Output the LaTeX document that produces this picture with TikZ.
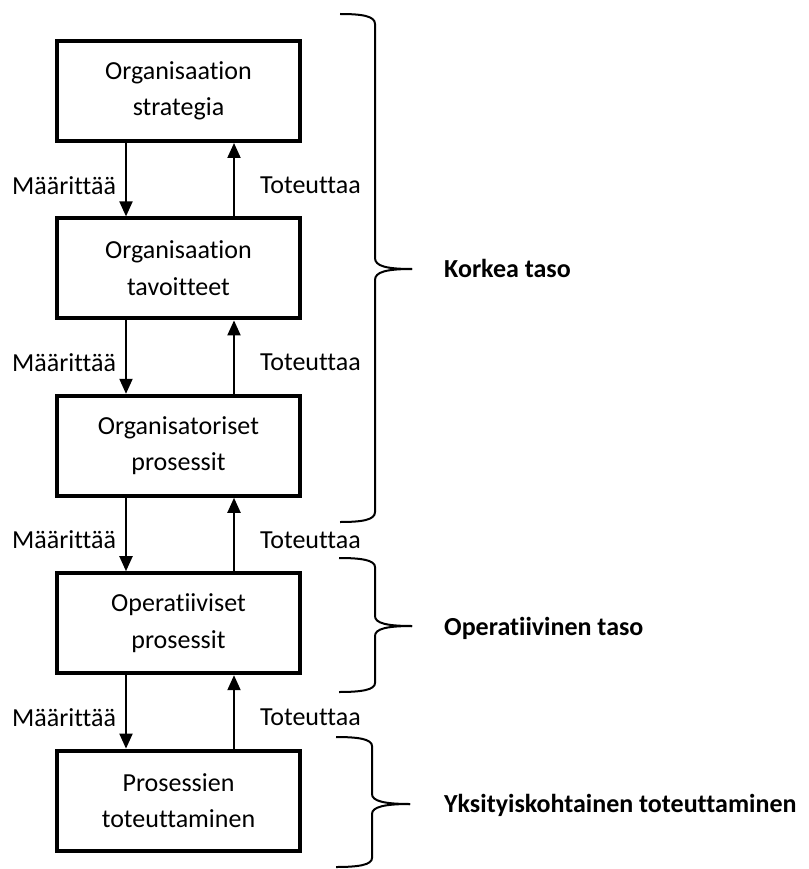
\documentclass[tikz,border=0pt]{standalone}
\usepackage{fontspec}
\setmainfont{Carlito}[RawFeature={-liga;-clig;-calt;-dlig}]
\usetikzlibrary{arrows.meta,calc}
\begin{document}
\begin{tikzpicture}[x=1pt,y=-1pt,
  box/.style={draw,line width=4pt,minimum width=243pt,minimum height=100pt,inner sep=0pt,align=center,font=\fontsize{26}{36.5}\selectfont},
  lbl/.style={font=\fontsize{26}{31}\selectfont,inner sep=0pt},
  lvl/.style={font=\fontsize{26}{31}\selectfont\bfseries,inner sep=0pt,anchor=base west},
  conn/.style={line width=2pt,-{Triangle[length=15pt,width=13pt]}},
  bracel/.style={line width=2pt}]
\useasboundingbox (0,0) rectangle (808,869);
\node[box] (b1) at (178.5,91) {Organisaation\\strategia};
\node[box] (b2) at (178.5,268.4) {Organisaation\\tavoitteet};
\node[box] (b3) at (178.5,445.8) {Organisatoriset\\prosessit};
\node[box] (b4) at (178.5,623.2) {Operatiiviset\\prosessit};
\node[box] (b5) at (178.5,800.6) {Prosessien\\toteuttaminen};
\foreach \a/\b in {b1/b2,b2/b3,b3/b4,b4/b5} {
  \draw[conn] ([xshift=-52.5pt]\a.south) -- node[lbl,left=9pt,yshift=-5.5pt]{Määrittää} ([xshift=-52.5pt]\b.north);
  \draw[conn] ([xshift=55.5pt]\b.north) -- node[lbl,right=25pt,yshift=-5.5pt]{Toteuttaa} ([xshift=55.5pt]\a.south);
}
% braces
\draw[bracel] (340,14) .. controls (362,14) and (375,16) .. (375,24) -- (375,258) .. controls (375,266) and (386,269) .. (412,269);
\draw[bracel] (412,269) .. controls (386,269) and (375,272) .. (375,280) -- (375,512) .. controls (375,520) and (362,522) .. (340,522);
\draw[bracel] (339,558) .. controls (361,558) and (375,560) .. (375,567) -- (375,616) .. controls (375,623) and (386,626) .. (412,626);
\draw[bracel] (412,626) .. controls (386,626) and (375,629) .. (375,636) -- (375,683) .. controls (375,690) and (361,692) .. (339,692);
\draw[bracel] (336,737) .. controls (358,737) and (372,739) .. (372,746) -- (372,794) .. controls (372,801) and (384,804) .. (410,804);
\draw[bracel] (410,804) .. controls (384,804) and (372,807) .. (372,814) -- (372,858) .. controls (372,865) and (358,867) .. (336,867);
\node[lvl] (k) at (444,277) {Korkea taso};
\node[lvl] (o) at (444,635) {Operatiivinen taso};
\node[lvl] (y) at (444,812) {Yksityiskohtainen toteuttaminen};
\end{tikzpicture}
\end{document}
